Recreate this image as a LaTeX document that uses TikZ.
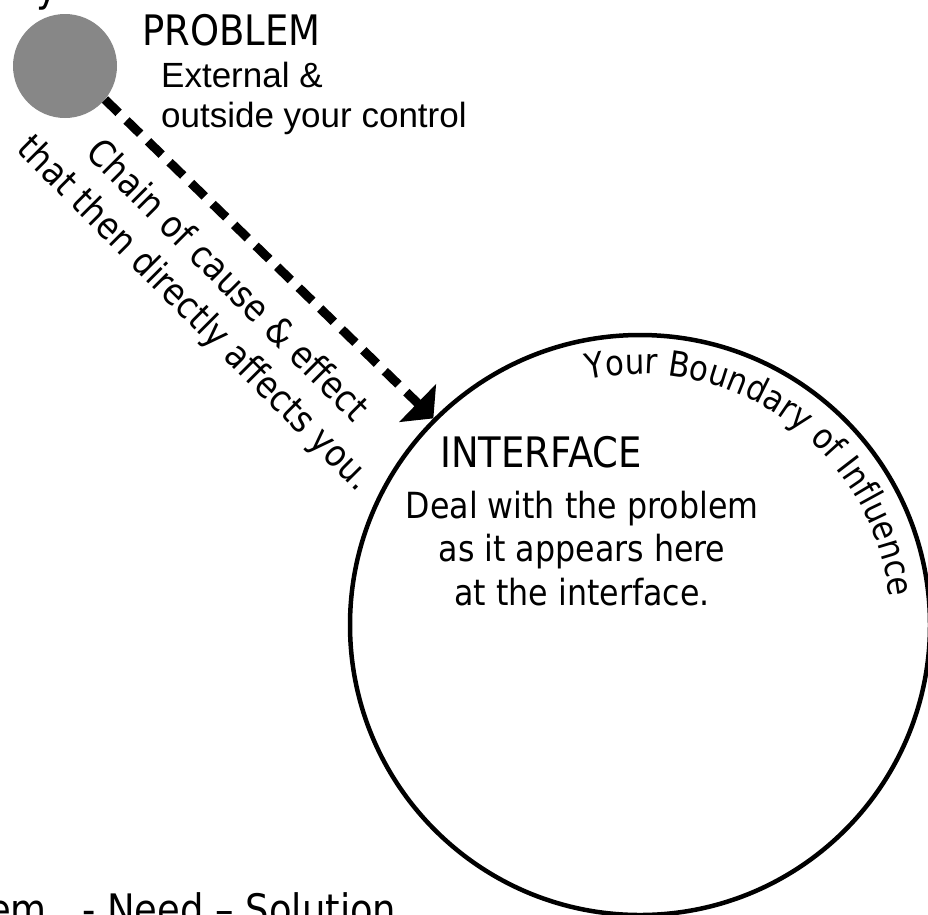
\documentclass[tikz,border=0pt]{standalone}
\usepackage{fontspec}
\usepackage{tikz}
\usetikzlibrary{arrows.meta,positioning,calc,decorations.text}
\newfontfamily\tahoma[FakeStretch=0.88]{DejaVu Sans}
\newfontfamily\arial{Liberation Sans}

\begin{document}
\begin{tikzpicture}[x=1pt,y=1pt,
    lbl/.style={inner sep=0pt,font=\tahoma\fontsize{36}{43.5}\selectfont},
    big/.style={inner sep=0pt,font=\tahoma\fontsize{42}{48}\selectfont},
    small/.style={inner sep=0pt,font=\arial\fontsize{35}{40}\selectfont},
    chain/.style={-{Triangle[width=52pt,length=22pt]},line width=9pt,dash pattern=on 19pt off 11pt},
    >=Latex
  ]

    \useasboundingbox (0,0) rectangle (928,-914);
    \clip (0,0) rectangle (928,-914);

    % the two circles
    \node[circle,fill=black!47,minimum size=104pt,inner sep=0pt] (prob) at (65,-66) {};
    \node[circle,draw,line width=4.5pt,minimum size=580pt,inner sep=0pt] (iface) at (640,-625) {};

    % text cut off at the top edge
    \node[big,anchor=base] (ytail) at (47,-1) {y};

    \node[big,anchor=base west] (probtitle) at (142,-45) {PROBLEM};
    % base of a multi-line node = baseline of its last line
    \node[small,anchor=base west,align=left] (probtext) at (161,-127) {External \&\\outside your control};

    \draw[chain] (prob.-40) -- (iface.135.7);

    \node[lbl,rotate=-45,align=center,font=\tahoma\fontsize{37}{46}\selectfont] (chaintext) at (210,-298)
      {Chain of cause \& effect\\that then directly affects you.};

    % label that follows the big circle
    \path[decorate,decoration={text along path,
        text={|\tahoma\fontsize{35}{40}\selectfont|Your Boundary of Influence}}]
      ($(iface.center)+(102:251)$) arc[start angle=102,end angle=0,radius=251];

    \node[big,anchor=base west] (iftitle) at (440,-467) {INTERFACE};
    \node[lbl,anchor=base,align=center] (iftext) at (582,-605)
      {Deal with the problem\\as it appears here\\at the interface.};

    % bottom line, cut off at the left
    \node[lbl,anchor=base west,font=\tahoma\fontsize{42}{48}\selectfont] (pns) at (-12,-924)
      {em~~~- Need – Solution};

  \end{tikzpicture}
\end{document}
